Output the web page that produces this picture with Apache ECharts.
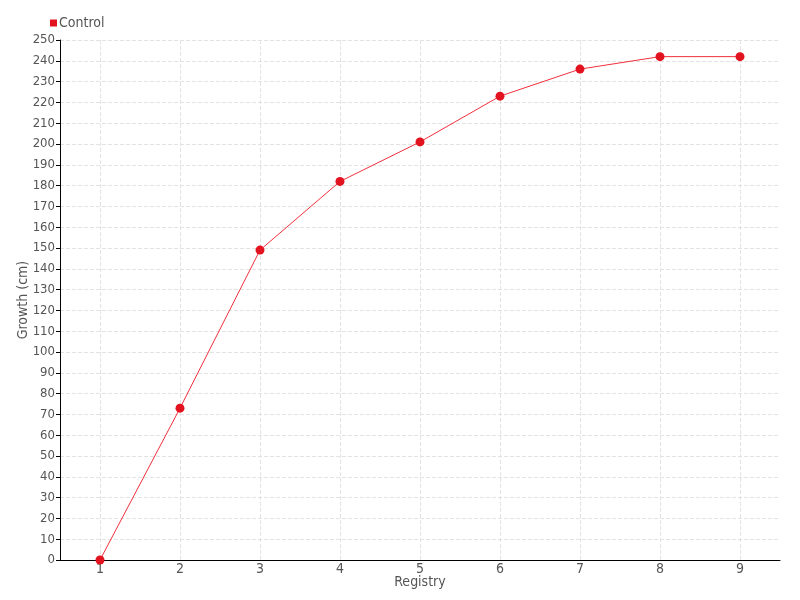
<!DOCTYPE html>
<html><head><meta charset="utf-8">
<script src="https://cdn.jsdelivr.net/npm/echarts@6/dist/echarts.min.js"></script>
<style>html,body{margin:0;padding:0;background:#fff;overflow:hidden}#c{width:800px;height:600px}</style>
</head><body><div id="c"></div>
<script>
const categories = ['1','2','3','4','5','6','7','8','9'];
const controlValues = [0, 73, 149, 182, 201, 223, 236, 242, 242];
const FONT = '"Liberation Sans Narrow","DejaVu Sans Condensed",sans-serif';
const chart = echarts.init(document.getElementById('c'));
chart.setOption({
  animation: false,
  textStyle: {fontFamily: FONT},
  legend: {
    left: 45, top: 11, itemWidth: 7, itemHeight: 7, itemGap: 4,
    icon: 'rect',
    textStyle: {fontFamily: FONT, fontSize: 14, color: '#555', padding: [0,0,0,-3]},
    data: ['Control']
  },
  grid: {left: 60, right: 20, top: 40, bottom: 40, outerBoundsMode: 'none', containLabel: false},
  xAxis: {
    type: 'category', data: categories,
    name: 'Registry', nameLocation: 'middle', nameGap: 15, nameMoveOverlap: false,
    nameTextStyle: {fontFamily: FONT, fontSize: 14, color: '#555'},
    axisLine: {lineStyle: {color: '#000'}},
    axisTick: {alignWithLabel: true, length: 4, lineStyle: {color: '#000'}},
    axisLabel: {fontFamily: FONT, fontSize: 14, color: '#555', margin: 2},
    splitLine: {show: true, alignWithLabel: true, lineStyle: {type: 'dashed', color: '#e2e2e2'}}
  },
  yAxis: {
    type: 'value', min: 0, max: 250, interval: 10,
    name: 'Growth (cm)', nameLocation: 'middle', nameGap: 30, nameMoveOverlap: false,
    nameTextStyle: {fontFamily: FONT, fontSize: 14, color: '#555'},
    axisLine: {show: true, lineStyle: {color: '#000'}},
    axisTick: {show: true, length: 4, lineStyle: {color: '#000'}},
    axisLabel: {fontFamily: FONT, fontSize: 13, color: '#555', margin: 5},
    splitLine: {show: true, lineStyle: {type: 'dashed', color: '#e2e2e2'}}
  },
  series: [{
    name: 'Control', type: 'line', data: controlValues,
    symbol: 'circle', symbolSize: 9,
    itemStyle: {color: '#e3121f'},
    lineStyle: {color: '#f0303c', width: 1}
  }]
});
</script></body></html>
